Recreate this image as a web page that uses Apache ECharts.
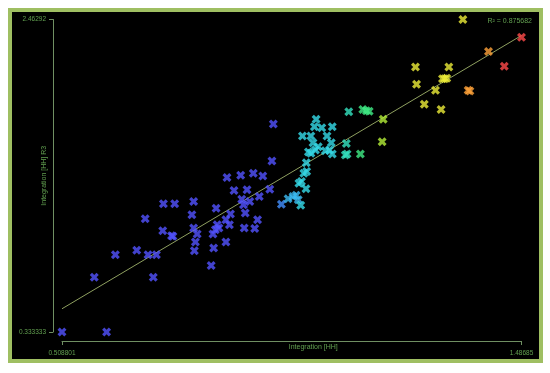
<!DOCTYPE html>
<html>
<head>
<meta charset="utf-8">
<script src="https://cdn.jsdelivr.net/npm/echarts@6/dist/echarts.min.js"></script>
<style>
html,body{margin:0;padding:0;background:#fff;width:550px;height:373px;overflow:hidden;}
#frame{position:absolute;left:8px;top:8px;width:527px;height:347px;border:4px solid #9fbf62;background:#000;}
#chart{position:absolute;left:0;top:0;width:550px;height:373px;}
</style>
</head>
<body>
<div id="frame"></div>
<div id="chart"></div>
<script>
// Data
const xValues = [
  0.5088,0.6037,0.5775,0.6224,0.6679,0.6919,0.7098,0.7031,0.6859,0.7247,
  0.7486,0.7232,0.7419,0.7449,0.7890,0.7853,0.7890,0.7965,0.7927,0.7905,
  0.8263,0.8368,0.8316,0.8301,0.8353,0.8391,0.8428,0.8577,0.8577,0.8652,
  0.8674,0.8600,0.8749,0.8891,0.9026,0.9160,0.9362,0.8914,0.8951,0.8988,
  0.9085,0.8966,0.9190,0.9250,0.9287,0.9511,0.9556,0.9586,0.9758,0.9900,
  1.0004,1.0072,1.0116,1.0169,1.0131,1.0184,1.0281,1.0236,1.0296,1.0288,
  1.0333,1.0385,1.0206,1.0385,1.0460,1.0497,1.0617,1.0430,1.0542,1.0483,
  1.0729,1.0841,1.0819,1.0692,1.0781,1.0841,1.1140,1.1118,1.1155,1.1192,
  1.1439,1.1491,1.1566,1.1626,1.1925,1.1902,1.2612,1.2634,1.2799,1.3038,
  1.3157,1.3187,1.3232,1.3277,1.3322,1.3621,1.3733,1.3770,1.4166,1.4502,
  1.48685
];
const yValues = [
  0.3333,0.3333,0.7067,0.8606,0.8900,0.8606,0.8606,0.7067,1.1050,1.2069,
  1.2069,1.0236,0.9896,0.9851,1.2227,1.1322,1.0416,1.0009,0.9466,0.8878,
  0.7859,1.1774,0.9059,1.0009,1.0303,1.0643,1.0416,0.9466,1.0982,1.0643,
  1.1367,1.3856,1.2974,1.4014,1.3019,1.4150,1.3969,1.2385,1.2000,1.1435,
  1.2227,1.0416,1.0394,1.0982,1.2566,1.3064,1.4988,1.7500,1.2046,1.2408,
  1.2566,1.2657,1.2340,1.1978,1.3472,1.3585,1.3087,1.4150,1.4264,1.4875,
  1.5599,1.5508,1.6685,1.6685,1.7319,1.7839,1.7251,1.6232,1.5961,1.5734,
  1.6685,1.7319,1.6232,1.5689,1.5734,1.5463,1.6187,1.5395,1.5463,1.8337,
  1.5463,1.8495,1.8405,1.8382,1.7839,1.6300,2.1392,2.0215,1.8857,1.9808,
  1.8495,2.0600,2.0600,2.0623,2.1392,2.46292,1.9808,1.9762,2.2455,2.1437,
  2.3428
];
const fitX = [0.508801, 1.48685];
const fitY = [0.4917, 2.3543];
const xTickValues = [0.508801, 1.48685];
const xTickLabels = ['0.508801', '1.48685'];
const yTickValues = [0.333333, 2.46292];
const yTickLabels = ['0.333333', '2.46292'];
const rSquaredLabel = 'R² = 0.875682';
const xName = 'Integration [HH]';
const yName = 'Integration [HH] R3';

const labelColor = '#62a050';
const axisColor = '#6f8f62';
const font = 'Liberation Sans, Arial, sans-serif';
const xMark = 'path://M0,2.5L2.5,0L5,2.5L7.5,0L10,2.5L7.5,5L10,7.5L7.5,10L5,7.5L2.5,10L0,7.5L2.5,5Z';

const points = xValues.map((x, i) => [x, yValues[i]]);
const fitLine = fitX.map((x, i) => [x, fitY[i]]);

const chart = echarts.init(document.getElementById('chart'), null, {renderer: 'canvas'});
chart.setOption({
  backgroundColor: 'transparent',
  animation: false,
  title: {
    text: rSquaredLabel,
    right: 13, top: 13,
    textStyle: {color: labelColor, fontSize: 7, fontWeight: 'normal', fontFamily: font}
  },
  grid: {left: 62, right: 28.5, top: 19.5, bottom: 41, containLabel: false},
  xAxis: {
    type: 'value',
    min: xTickValues[0], max: xTickValues[1],
    offset: 9,
    name: xName,
    nameLocation: 'middle',
    nameGap: 3,
    nameMoveOverlap: false,
    nameTextStyle: {color: labelColor, fontSize: 7, fontFamily: font, padding: [0, 0, 0, 43]},
    axisLine: {show: true, onZero: false, lineStyle: {color: axisColor, width: 1}},
    axisTick: {show: true, length: 4, customValues: xTickValues, lineStyle: {color: axisColor}},
    axisLabel: {
      show: true, margin: 9, customValues: xTickValues,
      color: labelColor, fontSize: 6.5, fontFamily: font,
      formatter: v => xTickLabels[xTickValues.indexOf(v)] ?? ''
    },
    splitLine: {show: false}
  },
  yAxis: {
    type: 'value',
    min: yTickValues[0], max: yTickValues[1],
    offset: 9,
    name: yName,
    nameLocation: 'middle',
    nameGap: 5,
    nameMoveOverlap: false,
    nameTextStyle: {color: labelColor, fontSize: 7, fontFamily: font},
    axisLine: {show: true, onZero: false, lineStyle: {color: axisColor, width: 1}},
    axisTick: {show: true, length: 4, customValues: yTickValues, lineStyle: {color: axisColor}},
    axisLabel: {
      show: true, margin: 7, customValues: yTickValues,
      color: labelColor, fontSize: 6.5, fontFamily: font,
      formatter: v => yTickLabels[yTickValues.indexOf(v)] ?? ''
    },
    splitLine: {show: false}
  },
  visualMap: {
    type: 'piecewise',
    show: false,
    dimension: 0,
    seriesIndex: 0,
    pieces: [
      {lt: 0.9685, color: '#5252ff'},
      {gte: 0.9685, lt: 0.988, color: '#4490ff'},
      {gte: 0.988, lt: 1.0125, color: '#3cbcf4'},
      {gte: 1.0125, lt: 1.105, color: '#36dcea'},
      {gte: 1.105, lt: 1.135, color: '#34e4c0'},
      {gte: 1.135, lt: 1.179, color: '#40ec86'},
      {gte: 1.179, lt: 1.232, color: '#b4ee38'},
      {gte: 1.232, lt: 1.364, color: '#ecec38'},
      {gte: 1.364, lt: 1.428, color: '#ffa23a'},
      {gte: 1.428, color: '#ff4a4a'}
    ]
  },
  series: [
    {
      type: 'scatter',
      data: points,
      symbol: xMark,
      symbolSize: 9,
      z: 3
    },
    {
      type: 'line',
      data: fitLine,
      symbol: 'none',
      silent: true,
      lineStyle: {color: '#8fa060', width: 1},
      z: 2
    }
  ]
});
</script>
</body>
</html>
